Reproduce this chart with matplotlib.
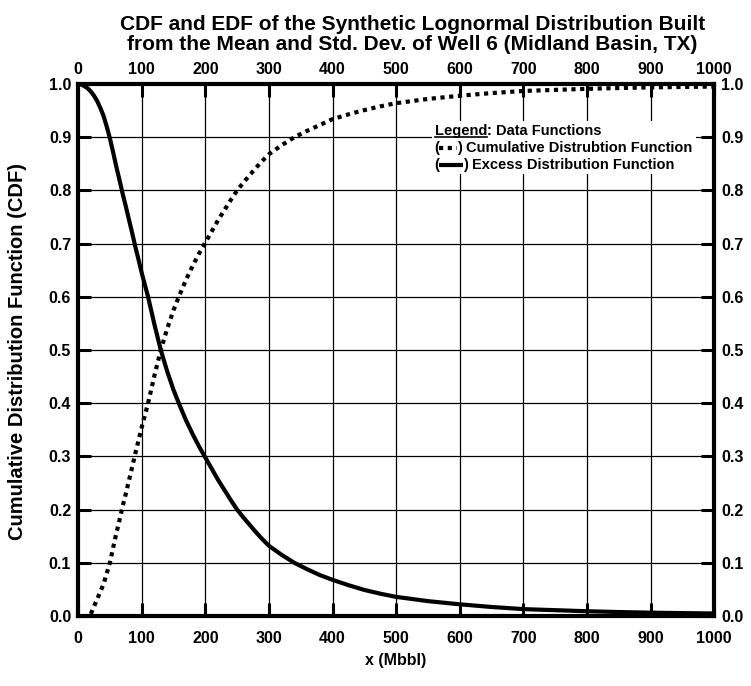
import matplotlib
matplotlib.use("Agg")
import matplotlib.pyplot as plt
import matplotlib.transforms as mtransforms
from matplotlib.lines import Line2D
from matplotlib.offsetbox import (AnchoredOffsetbox, DrawingArea, HPacker,
                                  TextArea, VPacker)

plt.rcParams['font.family'] = ['Liberation Sans', 'DejaVu Sans']
plt.rcParams['font.weight'] = 'bold'

## Data

edf_x = [0, 5, 10, 15, 20, 25, 30, 35, 40, 45, 50, 55, 60, 65, 70, 75, 80, 85, 90,
         95, 100, 110, 120, 130, 140, 150, 160, 170, 180, 190, 200, 210, 220, 230,
         240, 250, 260, 270, 280, 290, 300, 320, 340, 360, 380, 400, 425, 450, 475,
         500, 550, 600, 650, 700, 750, 800, 850, 900, 950, 1000]
edf_y = [1.0, 0.999, 0.996, 0.992, 0.986, 0.978, 0.968, 0.955, 0.94, 0.92, 0.898,
         0.872, 0.845, 0.82, 0.794, 0.77, 0.745, 0.72, 0.694, 0.67, 0.645, 0.60,
         0.548, 0.50, 0.46, 0.425, 0.395, 0.367, 0.342, 0.319, 0.298, 0.277, 0.256,
         0.237, 0.218, 0.20, 0.185, 0.171, 0.157, 0.144, 0.132, 0.115, 0.10, 0.088,
         0.077, 0.068, 0.058, 0.049, 0.042, 0.036, 0.028, 0.022, 0.017, 0.013,
         0.011, 0.009, 0.0075, 0.0063, 0.0055, 0.0048]

cdf_x = [20, 25, 30, 35, 40, 45, 50, 55, 60, 65, 70, 75, 80, 85, 90, 95, 100, 110,
         120, 130, 140, 150, 160, 170, 180, 190, 200, 210, 220, 230, 240, 250, 260,
         270, 280, 290, 300, 320, 340, 360, 380, 400, 425, 450, 475, 500, 550, 600,
         650, 700, 750, 800, 850, 900, 950, 1000]
cdf_y = [0.004, 0.018, 0.032, 0.046, 0.06, 0.08, 0.10, 0.128, 0.155, 0.18, 0.206,
         0.23, 0.255, 0.28, 0.306, 0.33, 0.355, 0.40, 0.452, 0.50, 0.54, 0.575,
         0.605, 0.633, 0.658, 0.681, 0.702, 0.723, 0.744, 0.763, 0.782, 0.80,
         0.815, 0.829, 0.843, 0.856, 0.868, 0.885, 0.90, 0.912, 0.923, 0.934,
         0.943, 0.951, 0.958, 0.964, 0.972, 0.978, 0.983, 0.987, 0.989, 0.991,
         0.9925, 0.9937, 0.9945, 0.9952]

x_ticks = [0, 100, 200, 300, 400, 500, 600, 700, 800, 900, 1000]
y_ticks = [0.0, 0.1, 0.2, 0.3, 0.4, 0.5, 0.6, 0.7, 0.8, 0.9, 1.0]

title_text = ("CDF and EDF of the Synthetic Lognormal Distribution Built\n"
              "from the Mean and Std. Dev. of Well 6 (Midland Basin, TX)")
x_title = "x (Mbbl)"
y_title = "Cumulative Distribution Function (CDF)"
legend_head = "Legend"
legend_rest = ": Data Functions"
cdf_label = "Cumulative Distrubtion Function"
edf_label = "Excess Distribution Function"

## Figure

fig = plt.figure(figsize=(7.51, 6.86), dpi=100)
ax = fig.add_axes([0.104, 0.102, 0.847, 0.7755])

cdf_style = dict(color="black", lw=3.0, linestyle=(0, (1, 1.1)), dash_capstyle="butt")
edf_style = dict(color="black", lw=3.0, solid_capstyle="butt")

ax.plot(cdf_x, cdf_y, zorder=4, **cdf_style)
ax.plot(edf_x, edf_y, zorder=4, **edf_style)

ax.set_xlim(0, 1000)
ax.set_ylim(0, 1.0)
ax.set_xticks(x_ticks)
ax.set_yticks(y_ticks)
ax.set_xticklabels([str(t) for t in x_ticks])
ax.set_yticklabels(["%.1f" % t for t in y_ticks])
ax.grid(True, color="black", lw=0.9)
ax.set_axisbelow(True)

ax.tick_params(direction="in", length=9.5, width=2.2, top=True, right=True,
               labeltop=True, labelright=True, labelsize=11.5)
ax.tick_params(axis="x", pad=5)
ax.tick_params(axis="y", pad=5)
for lab in ax.get_xticklabels() + ax.get_yticklabels():
    lab.set_fontweight("bold")
for sp in ax.spines.values():
    sp.set_linewidth(3)

# bottom tick labels sit further from the axis than the top ones
down = mtransforms.ScaledTranslation(0, -6 / 72, fig.dpi_scale_trans)
for tick in ax.xaxis.get_major_ticks():
    tick.label1.set_transform(tick.label1.get_transform() + down)

# legend block: "(sample) label" rows on a white box over the grid
leg_font = dict(fontsize=10.5, fontweight="bold")


def sample_row(style, label, width):
    da = DrawingArea(width, 8, 0, 0)
    da.add_artist(Line2D([0, width], [4, 4], **style))
    return HPacker(children=[TextArea("(", textprops=leg_font), da,
                             TextArea(") " + label, textprops=leg_font)],
                   pad=0, sep=0, align="center")


head_area = TextArea(legend_head, textprops=leg_font)
head_row = HPacker(children=[head_area, TextArea(legend_rest, textprops=leg_font)],
                   pad=0, sep=0, align="baseline")
rows = VPacker(children=[head_row, sample_row(cdf_style, cdf_label, 13),
                         sample_row(edf_style, edf_label, 17)],
               pad=0, sep=2, align="left")
box = AnchoredOffsetbox(loc="upper left", child=rows, pad=0.2, borderpad=0,
                        frameon=True, bbox_to_anchor=(0.556, 0.93),
                        bbox_transform=ax.transAxes)
box.patch.set_facecolor("white")
box.patch.set_edgecolor("none")
box.set_zorder(5)
ax.add_artist(box)

fig.canvas.draw()
bb = head_area._text.get_window_extent()
fw = fig.dpi * fig.get_figwidth()
fh = fig.dpi * fig.get_figheight()
fig.add_artist(Line2D([bb.x0 / fw, bb.x1 / fw], [(bb.y0 + 1.5) / fh] * 2,
                      color="black", lw=1.2, zorder=6))

fig.text(0.549, 0.9497, title_text, ha="center", va="center", fontsize=15,
         fontweight="bold", linespacing=1.05)
fig.text(0.527, 0.037, x_title, ha="center", va="center", fontsize=11.5,
         fontweight="bold")
fig.text(0.023, 0.487, y_title, ha="center", va="center", fontsize=14.5,
         fontweight="bold", rotation=90)

fig.savefig("out.png", dpi=100)
